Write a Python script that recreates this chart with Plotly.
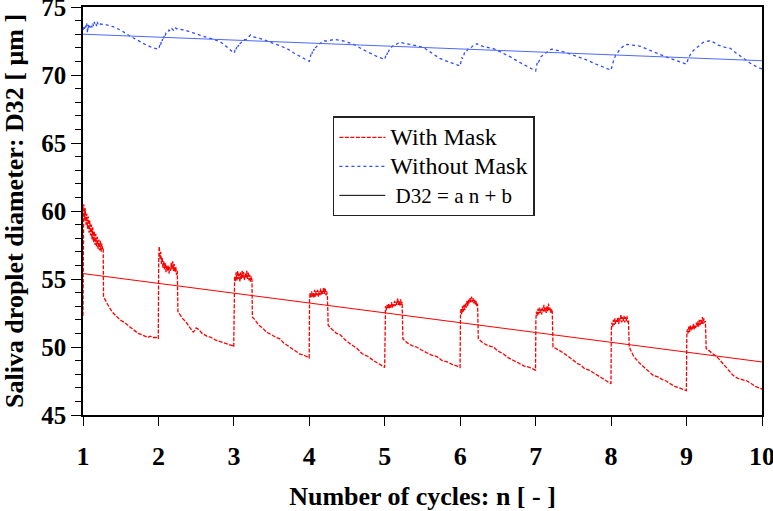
import plotly.graph_objects as go

# ---------------- data ----------------
# With Mask (red), one list pair per cycle
wm_x1 = [1.0, 1.004, 1.01, 1.02, 1.03, 1.04, 1.05, 1.06, 1.07, 1.08, 1.09, 1.10, 1.11, 1.12, 1.13,
         1.14, 1.15, 1.16, 1.17, 1.18, 1.19, 1.20, 1.21, 1.22, 1.23, 1.24, 1.25, 1.26,
         1.268, 1.272, 1.29, 1.31, 1.35, 1.40, 1.45, 1.49, 1.55, 1.62, 1.68, 1.73, 1.78, 1.82, 1.86,
         1.89, 1.93, 1.97, 1.998]
wm_y1 = [52.3, 59.0, 60.5, 59.3, 60.2, 59.0, 59.8, 58.7, 59.6, 58.4, 59.3, 58.2, 59.0, 57.9, 58.8,
         57.7, 58.5, 57.5, 58.3, 57.4, 58.1, 57.2, 57.9, 57.1, 57.8, 57.0, 57.6, 57.2,
         57.3, 53.7, 53.5, 53.3, 52.9, 52.5, 52.2, 52.0, 51.8, 51.5, 51.2, 51.0, 50.9, 50.8, 50.7,
         50.8, 50.7, 50.7, 50.6]

wm_x2 = [2.003, 2.01, 2.02, 2.03, 2.04, 2.05, 2.06, 2.07, 2.08, 2.09, 2.10, 2.11, 2.12, 2.13, 2.14,
         2.15, 2.16, 2.17, 2.18, 2.19, 2.20, 2.21, 2.22, 2.23, 2.24, 2.25,
         2.258, 2.28, 2.32, 2.37, 2.42, 2.46, 2.48, 2.50, 2.53, 2.58, 2.64, 2.70, 2.76, 2.82, 2.88,
         2.94, 2.98, 2.998]
wm_y2 = [56.2, 57.4, 56.5, 57.0, 56.1, 56.6, 55.8, 56.3, 55.7, 56.2, 55.5, 56.0, 55.6, 56.0, 55.4,
         55.9, 55.6, 56.2, 55.7, 56.3, 55.6, 56.1, 55.5, 55.9, 55.3, 55.6,
         52.6, 52.4, 52.1, 51.8, 51.4, 51.1, 51.2, 51.4, 51.3, 51.0, 50.8, 50.7, 50.5, 50.4, 50.3,
         50.2, 50.1, 50.0]

wm_x3 = [3.003, 3.01, 3.02, 3.03, 3.04, 3.05, 3.06, 3.07, 3.08, 3.09, 3.10, 3.11, 3.12, 3.13, 3.14,
         3.15, 3.16, 3.17, 3.18, 3.19, 3.20, 3.21, 3.22, 3.23, 3.24,
         3.245, 3.28, 3.33, 3.38, 3.43, 3.50, 3.56, 3.61, 3.66, 3.70, 3.76, 3.82, 3.87, 3.93, 3.97,
         3.998]
wm_y3 = [54.5, 55.2, 54.8, 55.5, 54.9, 55.6, 55.0, 55.4, 54.8, 55.5, 55.0, 55.6, 55.1, 55.5, 54.9,
         55.4, 55.1, 55.6, 55.0, 55.5, 54.9, 55.3, 54.8, 55.2, 54.9,
         52.2, 52.0, 51.6, 51.4, 51.1, 50.9, 50.7, 50.6, 50.3, 50.15, 49.9, 49.7, 49.5, 49.4, 49.3,
         49.2]

wm_x4 = [4.003, 4.01, 4.02, 4.03, 4.04, 4.05, 4.06, 4.07, 4.08, 4.09, 4.10, 4.11, 4.12, 4.13, 4.14,
         4.15, 4.16, 4.17, 4.18, 4.19, 4.20, 4.21, 4.22, 4.23, 4.24,
         4.25, 4.30, 4.36, 4.41, 4.48, 4.55, 4.63, 4.70, 4.78, 4.85, 4.92, 4.97, 4.998]
wm_y4 = [53.5, 54.0, 53.6, 54.1, 53.7, 54.0, 53.6, 54.2, 53.7, 54.1, 53.8, 54.2, 53.7, 54.1, 53.8,
         54.3, 53.8, 54.2, 53.9, 54.4, 53.9, 54.3, 53.8, 54.1, 53.7,
         51.6, 51.3, 51.0, 50.9, 50.5, 50.2, 49.9, 49.5, 49.3, 49.0, 48.8, 48.6, 48.5]

wm_x5 = [5.003, 5.01, 5.02, 5.03, 5.04, 5.05, 5.06, 5.07, 5.08, 5.09, 5.10, 5.11, 5.12, 5.13, 5.14,
         5.15, 5.16, 5.17, 5.18, 5.19, 5.20, 5.21, 5.22, 5.23,
         5.24, 5.30, 5.36, 5.42, 5.48, 5.55, 5.62, 5.69, 5.76, 5.83, 5.90, 5.96, 5.998]
wm_y5 = [52.6, 53.0, 52.7, 53.1, 52.8, 53.2, 52.8, 53.1, 52.9, 53.3, 52.9, 53.2, 53.0, 53.4, 53.0,
         53.3, 53.1, 53.6, 53.1, 53.4, 53.0, 53.5, 53.1, 53.3,
         50.6, 50.3, 50.1, 50.0, 49.8, 49.6, 49.4, 49.3, 49.0, 48.9, 48.7, 48.6, 48.5]

wm_x6 = [6.003, 6.01, 6.02, 6.03, 6.04, 6.05, 6.06, 6.07, 6.08, 6.09, 6.10, 6.11, 6.12, 6.13, 6.14,
         6.15, 6.16, 6.17, 6.18, 6.19, 6.20, 6.21, 6.22, 6.23,
         6.24, 6.30, 6.37, 6.44, 6.50, 6.57, 6.64, 6.71, 6.78, 6.85, 6.92, 6.96, 6.998]
wm_y6 = [52.2, 52.8, 52.4, 53.0, 52.6, 53.1, 52.7, 53.2, 52.9, 53.4, 53.0, 53.5, 53.2, 53.6, 53.3,
         53.7, 53.3, 53.6, 53.2, 53.5, 53.1, 53.4, 53.0, 53.2,
         50.6, 50.3, 50.1, 50.0, 49.7, 49.5, 49.2, 49.0, 48.8, 48.6, 48.5, 48.4, 48.3]

wm_x7 = [7.003, 7.01, 7.02, 7.03, 7.04, 7.05, 7.06, 7.07, 7.08, 7.09, 7.10, 7.11, 7.12, 7.13, 7.14,
         7.15, 7.16, 7.17, 7.18, 7.19, 7.20, 7.21, 7.22,
         7.23, 7.30, 7.36, 7.41, 7.48, 7.55, 7.59, 7.65, 7.71, 7.77, 7.83, 7.89, 7.94, 7.998]
wm_y7 = [52.0, 52.6, 52.3, 52.8, 52.4, 52.9, 52.5, 52.8, 52.4, 52.9, 52.6, 53.1, 52.6, 52.9, 52.5,
         53.0, 52.6, 53.2, 52.7, 52.9, 52.5, 52.8, 52.6,
         50.0, 49.8, 49.6, 49.4, 49.1, 48.8, 48.7, 48.4, 48.3, 48.1, 47.9, 47.7, 47.5, 47.3]

wm_x8 = [8.003, 8.01, 8.02, 8.03, 8.04, 8.05, 8.06, 8.07, 8.08, 8.09, 8.10, 8.11, 8.12, 8.13, 8.14,
         8.15, 8.16, 8.17, 8.18, 8.19, 8.20, 8.21, 8.22, 8.23,
         8.24, 8.30, 8.38, 8.46, 8.51, 8.56, 8.62, 8.68, 8.73, 8.78, 8.84, 8.90, 8.95, 8.998]
wm_y8 = [51.2, 51.8, 51.5, 52.0, 51.6, 52.1, 51.7, 52.0, 51.8, 52.2, 51.7, 52.1, 51.9, 52.4, 51.8,
         52.2, 51.9, 52.3, 51.8, 52.2, 51.9, 52.3, 51.8, 52.0,
         50.0, 49.3, 48.8, 48.4, 48.2, 47.9, 47.8, 47.6, 47.5, 47.3, 47.1, 47.0, 46.9, 46.8]

wm_x9 = [9.003, 9.01, 9.02, 9.03, 9.04, 9.05, 9.06, 9.07, 9.08, 9.09, 9.10, 9.11, 9.12, 9.13, 9.14,
         9.15, 9.16, 9.17, 9.18, 9.19, 9.20, 9.21, 9.22, 9.23, 9.24, 9.25,
         9.26, 9.30, 9.35, 9.40, 9.46, 9.52, 9.57, 9.62, 9.68, 9.74, 9.80, 9.86, 9.91, 9.96, 10.0]
wm_y9 = [50.8, 51.3, 51.0, 51.5, 51.1, 51.6, 51.2, 51.5, 51.3, 51.7, 51.3, 51.6, 51.4, 51.8, 51.5,
         51.9, 51.5, 52.0, 51.6, 52.0, 51.7, 52.2, 51.7, 52.1, 51.8, 51.9,
         49.9, 49.7, 49.5, 49.3, 48.9, 48.5, 48.2, 47.9, 47.7, 47.6, 47.5, 47.3, 47.1, 47.0, 46.9]

# Without Mask (blue)
wo_x = [1.00, 1.01, 1.02, 1.03, 1.04, 1.05, 1.06, 1.07, 1.08, 1.09, 1.10, 1.11, 1.12, 1.13, 1.14,
        1.15, 1.16, 1.17, 1.18, 1.19, 1.20, 1.21, 1.225, 1.30, 1.40, 1.50, 1.62, 1.72, 1.84, 1.93, 2.00,
        2.01, 2.02, 2.03, 2.04, 2.05, 2.06, 2.07, 2.08, 2.09, 2.10, 2.12, 2.14, 2.16, 2.18, 2.20, 2.22,
        2.24, 2.26, 2.37, 2.45, 2.55, 2.65, 2.74, 2.82, 2.90, 2.96, 3.00,
        3.01, 3.02, 3.03, 3.04, 3.05, 3.06, 3.07, 3.08, 3.10, 3.12, 3.14, 3.16, 3.18, 3.20, 3.22,
        3.26, 3.34, 3.43, 3.55, 3.70, 3.80, 3.90, 4.00,
        4.01, 4.02, 4.03, 4.04, 4.05, 4.06, 4.07, 4.08, 4.10, 4.12, 4.14, 4.16, 4.18, 4.20, 4.22,
        4.34, 4.45, 4.58, 4.70, 4.80, 4.90, 5.00,
        5.01, 5.02, 5.03, 5.04, 5.05, 5.06, 5.08, 5.10, 5.12, 5.14, 5.16, 5.18, 5.20, 5.22,
        5.33, 5.42, 5.51, 5.62, 5.73, 5.85, 5.95, 6.00,
        6.01, 6.02, 6.03, 6.04, 6.05, 6.06, 6.08, 6.10, 6.12, 6.14, 6.16, 6.18, 6.20, 6.22,
        6.30, 6.44, 6.55, 6.66, 6.78, 6.90, 7.00,
        7.01, 7.02, 7.03, 7.04, 7.05, 7.06, 7.08, 7.10, 7.12, 7.14, 7.16, 7.18, 7.21,
        7.30, 7.41, 7.55, 7.68, 7.80, 7.92, 8.00,
        8.01, 8.02, 8.03, 8.04, 8.05, 8.06, 8.08, 8.10, 8.12, 8.14, 8.16, 8.18, 8.21,
        8.30, 8.38, 8.50, 8.60, 8.72, 8.82, 8.92, 9.00,
        9.01, 9.02, 9.03, 9.05, 9.07, 9.09, 9.11, 9.13, 9.16, 9.19, 9.22, 9.25, 9.31,
        9.36, 9.42, 9.50, 9.58, 9.66, 9.75, 9.85, 9.93, 10.0]
wo_y = [73.3, 73.6, 73.4, 73.7, 73.5, 73.8, 73.1, 73.7, 73.4, 73.6, 73.5, 73.7, 73.5, 73.8, 73.6,
        73.9, 73.7, 73.8, 73.6, 73.9, 73.7, 73.8, 73.75, 73.7, 73.55, 73.3, 72.87, 72.55, 72.2, 72.0, 71.9,
        72.0, 72.3, 72.2, 72.6, 72.5, 72.8, 72.7, 73.0, 72.9, 73.1, 73.1, 73.3, 73.2, 73.4, 73.3, 73.5,
        73.4, 73.4, 73.26, 73.1, 72.94, 72.75, 72.6, 72.45, 72.1, 71.8, 71.6,
        71.7, 72.0, 71.9, 72.1, 72.0, 72.2, 72.1, 72.3, 72.4, 72.5, 72.6, 72.6, 72.7, 72.8, 72.95,
        72.8, 72.7, 72.52, 72.25, 71.96, 71.6, 71.3, 71.0,
        71.2, 71.5, 71.4, 71.7, 71.6, 71.9, 71.8, 72.0, 72.1, 72.3, 72.3, 72.4, 72.4, 72.5, 72.5,
        72.62, 72.5, 72.28, 71.9, 71.6, 71.35, 71.15,
        71.4, 71.6, 71.5, 71.8, 71.7, 71.9, 72.0, 72.1, 72.2, 72.2, 72.3, 72.35, 72.4, 72.38,
        72.25, 72.15, 72.03, 71.6, 71.22, 70.95, 70.75, 70.66,
        71.0, 71.3, 71.2, 71.5, 71.5, 71.7, 71.7, 71.9, 71.9, 72.0, 72.1, 72.2, 72.2, 72.3,
        72.1, 71.94, 71.65, 71.35, 70.95, 70.6, 70.3,
        70.6, 70.9, 70.8, 71.1, 71.1, 71.3, 71.4, 71.5, 71.6, 71.65, 71.7, 71.8, 71.9,
        71.8, 71.64, 71.35, 71.1, 70.8, 70.5, 70.35,
        70.6, 70.9, 70.9, 71.2, 71.3, 71.5, 71.6, 71.8, 71.9, 72.0, 72.1, 72.2, 72.25,
        72.2, 72.13, 71.85, 71.6, 71.35, 71.15, 70.95, 70.8,
        71.0, 71.3, 71.3, 71.5, 71.6, 71.8, 71.9, 72.0, 72.15, 72.3, 72.4, 72.45, 72.52,
        72.4, 72.2, 72.05, 71.96, 71.6, 71.22, 70.85, 70.6, 70.45]

# Linear fits D32 = a n + b (end points)
fit_x = [1, 10]
fit_with_mask = [55.4, 48.9]
fit_without_mask = [73.0, 71.05]

x_ticks = [1, 2, 3, 4, 5, 6, 7, 8, 9, 10]
y_ticks = [45, 50, 55, 60, 65, 70, 75]

# ---------------- figure ----------------
wm_x = wm_x1 + wm_x2 + wm_x3 + wm_x4 + wm_x5 + wm_x6 + wm_x7 + wm_x8 + wm_x9
wm_y = wm_y1 + wm_y2 + wm_y3 + wm_y4 + wm_y5 + wm_y6 + wm_y7 + wm_y8 + wm_y9

RED = "#ff0000"
BLUE = "#2f4dff"
SERIF = "Liberation Serif, Times New Roman, serif"


def big(txt, px):
    return '<span style="font-size:%dpx">%s</span>' % (px, txt)


fig = go.Figure()
fig.add_trace(go.Scatter(x=wm_x, y=wm_y, mode="lines", name=big("With Mask", 24),
                         line=dict(color=RED, width=1.3, dash="4px,1.5px")))
fig.add_trace(go.Scatter(x=wo_x, y=wo_y, mode="lines", name=big("Without Mask", 24),
                         line=dict(color=BLUE, width=1.3, dash="dot")))
fig.add_trace(go.Scatter(x=fit_x, y=fit_with_mask, mode="lines", showlegend=False,
                         line=dict(color=RED, width=1)))
fig.add_trace(go.Scatter(x=fit_x, y=fit_without_mask, mode="lines", showlegend=False,
                         line=dict(color="#4d68ff", width=1)))
fig.add_trace(go.Scatter(x=[None], y=[None], mode="lines",
                         name=big(" D32 = a n + b", 21),
                         line=dict(color="black", width=1)))

fig.update_layout(
    width=773, height=511,
    margin=dict(l=83, r=11, t=7, b=96, autoexpand=False),
    paper_bgcolor="white", plot_bgcolor="white",
    font=dict(family=SERIF, color="black"),
    legend=dict(x=0.368, y=0.732, xanchor="left", yanchor="top",
                bgcolor="white", bordercolor="#222", borderwidth=1.5,
                font=dict(family=SERIF, size=20, color="black"),
                itemwidth=46, tracegroupgap=0),
    showlegend=True,
)
fig.update_xaxes(
    range=[1, 10], tickvals=x_ticks, ticktext=[str(v) for v in x_ticks],
    showgrid=False, zeroline=False, ticklabeloverflow="allow", automargin=False,
    showline=True, linecolor="black", linewidth=1.5, mirror=True,
    ticks="outside", ticklen=9, tickwidth=1.2, tickcolor="black", ticklabelstandoff=8,
    tickfont=dict(family=SERIF, size=26, weight="bold"),
    title=dict(text="Number of cycles: n [ - ]", standoff=20,
               font=dict(family=SERIF, size=26, weight="bold")),
)
fig.update_yaxes(
    range=[45, 75], tickvals=y_ticks, ticktext=[str(v) for v in y_ticks],
    showgrid=False, zeroline=False, ticklabeloverflow="allow", automargin=False,
    showline=True, linecolor="black", linewidth=1.5, mirror=True,
    ticks="outside", ticklen=10, tickwidth=1.2, tickcolor="black",
    minor=dict(dtick=1, ticks="outside", ticklen=6, tickwidth=1, tickcolor="black", showgrid=False),
    tickfont=dict(family=SERIF, size=25, weight="bold"),
    title=dict(text="Saliva droplet diameter: D32 [ μm ]", standoff=12,
               font=dict(family=SERIF, size=26, weight="bold")),
)

# remove the default 8px page margin so the figure fills the window exactly
fig.write_html("out.html", config={"displayModeBar": False},
               post_script="document.body.style.margin='0px';")
